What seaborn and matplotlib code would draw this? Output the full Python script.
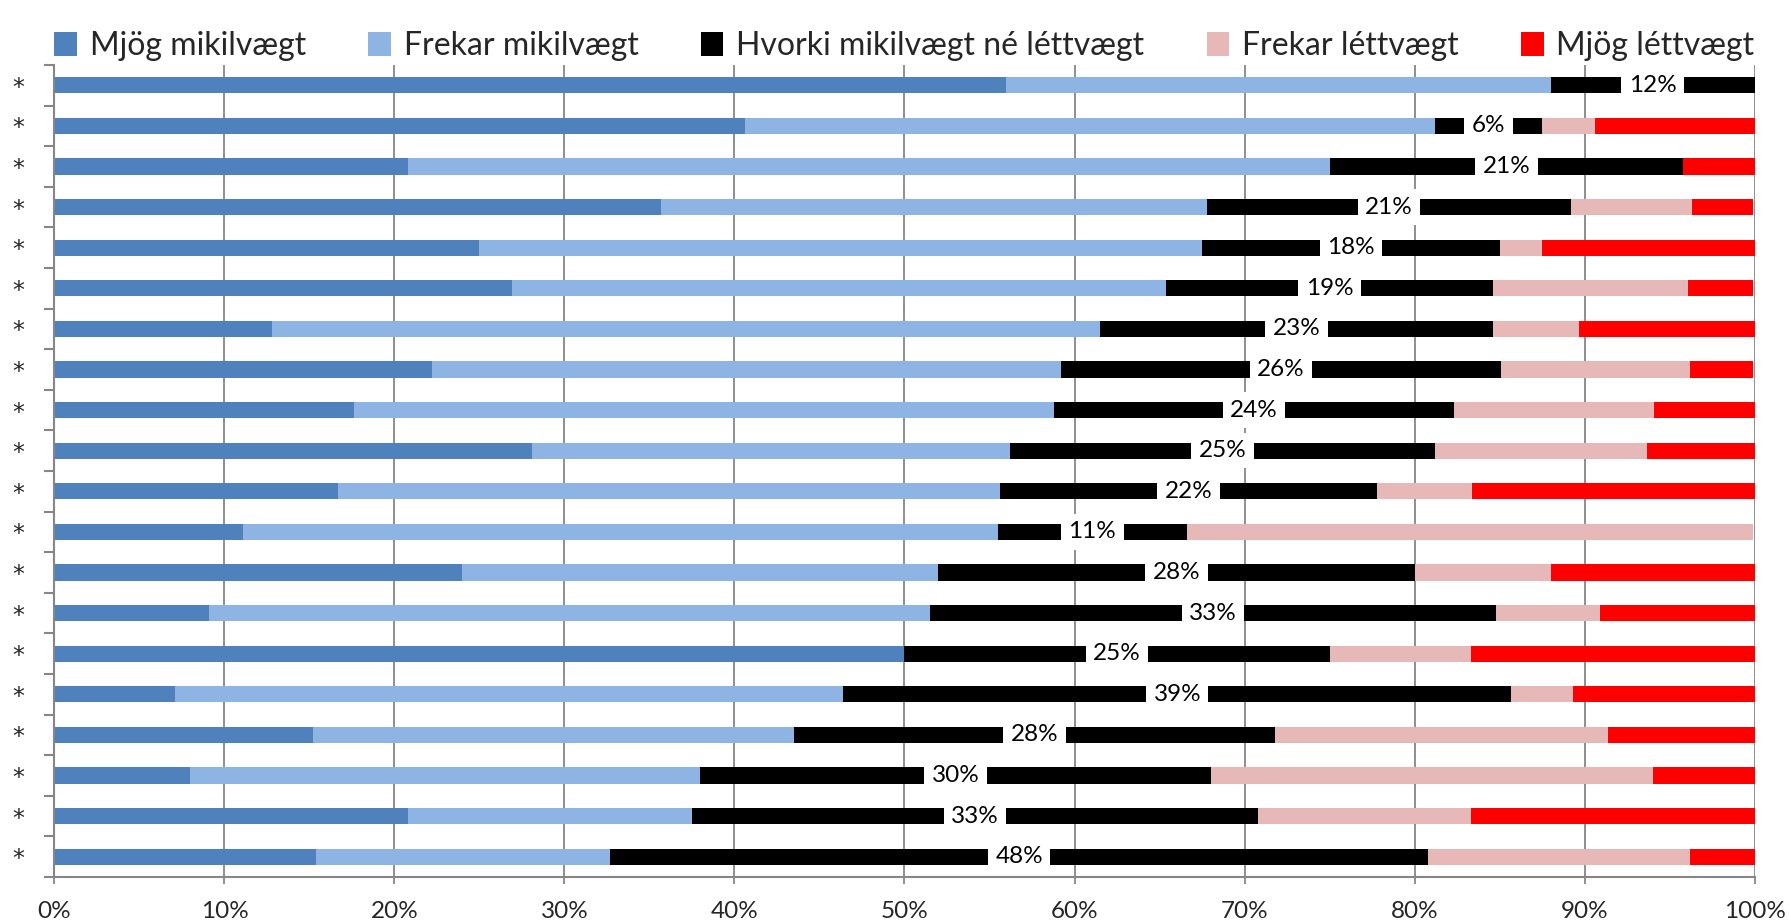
import matplotlib
matplotlib.use("Agg")

import matplotlib.pyplot as plt
from matplotlib.patches import Patch
import numpy as np
import pandas as pd
import seaborn as sns

# Flokkar (svör) og litir
FLOKKAR = ["Mjög mikilvægt", "Frekar mikilvægt", "Hvorki mikilvægt né léttvægt",
           "Frekar léttvægt", "Mjög léttvægt"]
LITIR = ["#4F81BD", "#8EB4E3", "#000000", "#E6B9B8", "#FF0000"]
GRATT = "#868686"

# Raðir (20 spurningar, allar merktar *)
RADIR = [f"r{i:02d}" for i in range(20)]
RADA_MERKI = ["*"] * 20

# Hlutföll í % fyrir hverja röð, lesin af myndinni
mjog_mikil = [56.0, 40.6, 20.8, 35.7, 25.0, 26.9, 12.8, 22.2, 17.6, 28.1,
              16.7, 11.1, 24.0, 9.1, 50.0, 7.1, 15.2, 8.0, 20.8, 15.4]
frekar_mikil = [32.0, 40.6, 54.2, 32.1, 42.5, 38.5, 48.7, 37.0, 41.2, 28.1,
                38.9, 44.4, 28.0, 42.4, 0.0, 39.3, 28.3, 30.0, 16.7, 17.3]
hvorki = [12.0, 6.3, 20.8, 21.4, 17.5, 19.2, 23.1, 25.9, 23.5, 25.0,
          22.2, 11.1, 28.0, 33.3, 25.0, 39.3, 28.3, 30.0, 33.3, 48.1]
frekar_lett = [0.0, 3.1, 0.0, 7.1, 2.5, 11.5, 5.1, 11.1, 11.8, 12.5,
               5.6, 33.3, 8.0, 6.1, 8.3, 3.6, 19.6, 26.0, 12.5, 15.4]
mjog_lett = [0.0, 9.4, 4.2, 3.6, 12.5, 3.8, 10.3, 3.7, 5.9, 6.3,
             16.7, 0.0, 12.0, 9.1, 16.7, 10.7, 8.7, 6.0, 16.7, 3.8]

X_TICKS = list(range(0, 101, 10))

sns.set_theme(style="white")
plt.rcParams["font.family"] = ["Lato", "DejaVu Sans"]

df = pd.DataFrame(
    dict(zip(FLOKKAR, [mjog_mikil, frekar_mikil, hvorki, frekar_lett, mjog_lett])),
    index=RADIR,
)
uppsafnad = df.cumsum(axis=1)

fig = plt.figure(figsize=(17.9, 9.22), dpi=100)
ax = fig.add_axes([0.0304, 0.0488, 0.9498, 0.8807])

# Staflaðar súlur: teiknað aftast frá lengstu uppsöfnun
for i in reversed(range(len(FLOKKAR))):
    sns.barplot(
        x=uppsafnad.iloc[:, i].values,
        y=RADIR,
        order=RADIR,
        orient="h",
        color=LITIR[i],
        saturation=1,
        width=0.4,
        linewidth=0,
        errorbar=None,
        ax=ax,
    )

# Merki á miðjan "Hvorki" hlutann
midja = uppsafnad[FLOKKAR[2]] - df[FLOKKAR[2]] / 2
for k, (c, v) in enumerate(zip(midja, df[FLOKKAR[2]])):
    ax.text(c, k, f"{v:.0f}%", ha="center", va="center", fontsize=17.5, color="black",
            bbox=dict(boxstyle="square,pad=0.3", facecolor="white", edgecolor="none"))

ax.set_xlim(0, 100)
ax.set_ylim(19.5, -0.5)
ax.set_xticks(X_TICKS)
ax.set_xticklabels([f"{t}%" for t in X_TICKS], fontsize=17.5)
ax.set_yticks(range(len(RADIR)))
ax.set_yticklabels(RADA_MERKI, fontsize=17, family="DejaVu Sans")
ax.set_yticks(np.arange(-0.5, len(RADIR), 1), minor=True)
ax.set_xlabel("")
ax.set_ylabel("")

ax.xaxis.grid(True, color=GRATT, linewidth=1.3)
ax.yaxis.grid(False)
ax.set_axisbelow(True)
for side in ["top", "right"]:
    ax.spines[side].set_visible(False)
for side in ["left", "bottom"]:
    ax.spines[side].set_color(GRATT)
    ax.spines[side].set_linewidth(1.5)

ax.tick_params(axis="y", which="major", length=0, pad=22)
ax.tick_params(axis="y", which="minor", length=7, width=1.5, color=GRATT, direction="out", left=True)
ax.tick_params(axis="x", which="major", length=5, width=1.3, color=GRATT, direction="out", bottom=True, pad=12)

handles = [Patch(facecolor=c, edgecolor="none") for c in LITIR]
ax.legend(handles, FLOKKAR, loc="lower left", bbox_to_anchor=(0, 1.005, 1, 0.07),
          mode="expand", ncol=5, frameon=False, fontsize=23, handlelength=0.7,
          handleheight=0.75, handletextpad=0.4, borderaxespad=0, borderpad=0)

fig.savefig("out.png", dpi=100)
plt.close(fig)
